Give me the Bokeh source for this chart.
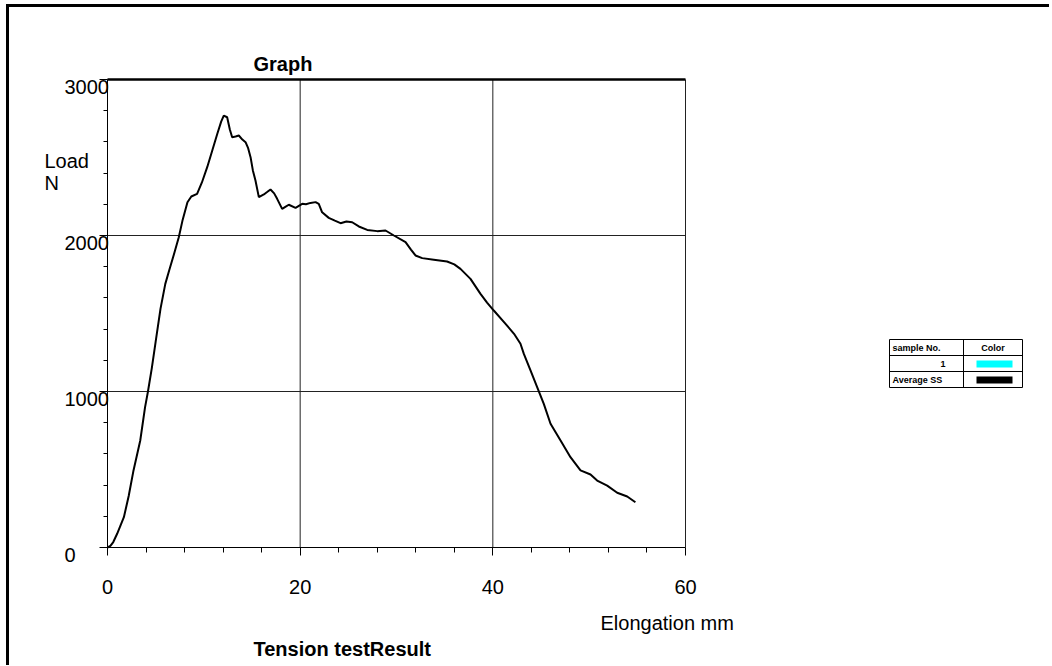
from bokeh.plotting import figure
from bokeh.models import Range1d, FixedTicker, Label, LinearAxis
from bokeh.layouts import row
from bokeh.embed import file_html
from bokeh.resources import INLINE

# ---------------- data ----------------
ELONG = [0, 0.3, 0.6, 1.0, 1.7, 2.2, 2.7, 3.4, 3.9, 4.2, 4.6, 5.0, 5.5, 6.0, 6.4, 6.9, 7.4,
         7.8, 8.3, 8.7, 9.3, 9.8, 10.35, 10.9, 11.4, 11.8, 12.07, 12.42, 12.7, 12.94, 13.3,
         13.63, 14.0, 14.33, 14.6, 14.85, 15.09, 15.36, 15.71, 16.23, 16.6, 16.92, 17.3,
         17.61, 18.13, 18.5, 18.82, 19.52, 20.21, 20.6, 21.07, 21.6, 21.93, 22.28, 22.97,
         23.6, 24.19, 24.8, 25.4, 26.09, 26.96, 28.0, 28.86, 29.73, 30.94, 31.5, 31.97,
         32.67, 33.87, 35.25, 36.0, 36.64, 37.68, 38.72, 39.4, 40.1, 41.32, 42.2, 42.87,
         43.22, 43.91, 44.6, 45.29, 45.99, 47.03, 48.06, 49.1, 50.14, 50.83, 51.87, 52.91,
         53.95, 54.8]
LOAD = [0, 10, 35, 88, 194, 330, 494, 686, 900, 1000, 1150, 1320, 1530, 1690, 1776, 1880,
        1989, 2100, 2213, 2250, 2267, 2340, 2438, 2550, 2652, 2730, 2769, 2758, 2680, 2630,
        2635, 2641, 2615, 2598, 2560, 2502, 2417, 2353, 2246, 2263, 2280, 2295, 2270, 2235,
        2171, 2185, 2197, 2177, 2203, 2200, 2209, 2214, 2203, 2149, 2113, 2095, 2079, 2090,
        2085, 2058, 2036, 2028, 2032, 2000, 1957, 1910, 1872, 1855, 1845, 1833, 1815, 1786,
        1722, 1626, 1570, 1519, 1434, 1370, 1306, 1241, 1135, 1028, 921, 793, 686, 579, 494,
        468, 429, 397, 351, 327, 290]

X_TICKS = [0, 20, 40, 60]
X_TICK_LABELS = ["0", "20", "40", "60"]
X_MINOR = [4, 8, 12, 16, 24, 28, 32, 36, 44, 48, 52, 56]
X_GRID = [20, 40, 60]
Y_TICKS = [0, 1000, 2000, 3000]
Y_TICK_LABELS = ["0", "1000", "2000", "3000"]
Y_MINOR = [200, 400, 600, 800, 1200, 1400, 1600, 1800, 2200, 2400, 2600, 2800]
Y_GRID = [1000, 2000]
X_MIN, X_MAX = 0, 60
Y_MIN, Y_MAX = 0, 3000

TITLE = "Graph"
Y_TITLE = ["Load", "N"]
X_TITLE = "Elongation mm"
FOOTER = "Tension testResult"

LEGEND_HEADERS = ["sample No.", "Color"]
LEGEND_SAMPLES = ["1", "Average SS"]
LEGEND_COLORS = ["#00FFFF", "#000000"]

FONT = "Liberation Sans"
FS = "20px"

# ---------------- geometry (page pixels) ----------------
OX, OY = 9, 7                 # top-left of the main canvas on the page
W, H = 870, 658
PL, PR, PT, PB = 107, 685, 79, 547   # plot-area box on the page
SX = (PR - PL) / (X_MAX - X_MIN)
SY = (PB - PT) / (Y_MAX - Y_MIN)


def dx(px):
    return X_MIN + (px - PL) / SX


def dy(py):
    return Y_MIN + (PB - py) / SY


x_range = Range1d(dx(OX), dx(OX + W))
y_range = Range1d(dy(OY + H), dy(OY))

# ---------------- main figure ----------------
p = figure(width=W, height=H, x_range=x_range, y_range=y_range,
           output_backend="svg", toolbar_location=None, min_border=0)
p.background_fill_color = "white"
p.border_fill_color = "white"
p.outline_line_color = None
p.grid.visible = False

# x axis at y=0
xa = p.xaxis[0]
xa.fixed_location = Y_MIN
xa.bounds = (X_MIN, X_MAX)
xa.ticker = FixedTicker(ticks=X_TICKS, minor_ticks=X_MINOR)
xa.major_label_overrides = {t: l for t, l in zip(X_TICKS, X_TICK_LABELS)}
xa.axis_line_color = "black"
xa.major_tick_line_color = "black"
xa.minor_tick_line_color = "black"
xa.major_tick_in = 0
xa.minor_tick_in = 0
xa.major_tick_out = 8
xa.minor_tick_out = 5
xa.major_label_text_font = FONT
xa.major_label_text_font_size = FS
xa.major_label_text_color = "black"
xa.major_label_standoff = 24

# y axis at x=0: minor ticks axis + major ticks axis (labels drawn separately)
ya = p.yaxis[0]
ya.fixed_location = X_MIN
ya.bounds = (Y_MIN, Y_MAX)
ya.ticker = FixedTicker(ticks=[], minor_ticks=Y_MINOR)
ya.axis_line_color = "black"
ya.minor_tick_line_color = "black"
ya.minor_tick_in = 0
ya.minor_tick_out = 4

ya2 = LinearAxis(fixed_location=X_MIN, bounds=(Y_MIN, Y_MAX),
                 ticker=FixedTicker(ticks=[], minor_ticks=Y_TICKS))
ya2.axis_line_color = "black"
ya2.minor_tick_line_color = "black"
ya2.minor_tick_in = 0
ya2.minor_tick_out = 8
p.add_layout(ya2, "left")

# grid lines and box
p.segment(x0=X_GRID, y0=[Y_MIN] * len(X_GRID), x1=X_GRID, y1=[Y_MAX] * len(X_GRID),
          line_color="#222222", line_width=1)
p.segment(x0=[X_MIN] * len(Y_GRID), y0=Y_GRID, x1=[X_MAX] * len(Y_GRID), y1=Y_GRID,
          line_color="#222222", line_width=1)
p.segment(x0=[X_MIN], y0=[Y_MAX], x1=[X_MAX], y1=[Y_MAX], line_color="black", line_width=2.5)

# data curve
p.line(ELONG, LOAD, line_color="black", line_width=2)

# y tick labels (left aligned, a little below their tick)
for t, lab in zip(Y_TICKS, Y_TICK_LABELS):
    p.add_layout(Label(x=dx(64), y=t - 7 / SY, text=lab, text_font=FONT, text_font_size=FS,
                       text_align="left", text_baseline="middle", text_color="black"))

TXT = dict(text_font=FONT, text_font_size=FS, text_align="left", text_baseline="middle",
           text_color="black")
p.add_layout(Label(x=dx(253), y=dy(63), text=TITLE, text_font_style="bold", **TXT))
p.add_layout(Label(x=dx(44), y=dy(160), text=Y_TITLE[0], **TXT))
p.add_layout(Label(x=dx(44), y=dy(182), text=Y_TITLE[1], **TXT))
p.add_layout(Label(x=dx(600), y=dy(622), text=X_TITLE, **TXT))
p.add_layout(Label(x=dx(253), y=dy(648), text=FOOTER, text_font_style="bold", **TXT))

# ---------------- legend table figure ----------------
leg = figure(width=170, height=H, x_range=Range1d(0, 170), y_range=Range1d(H, 0),
             output_backend="svg", toolbar_location=None, min_border=0)
leg.axis.visible = False
leg.grid.visible = False
leg.outline_line_color = None
leg.background_fill_color = "white"
leg.border_fill_color = "white"

leg.quad(left=[10], right=[143], top=[332], bottom=[380], fill_color=None,
         line_color="black", line_width=1)
leg.segment(x0=[10, 10, 84], y0=[348, 364, 332], x1=[143, 143, 84], y1=[348, 364, 380],
            line_color="black", line_width=1)
leg.quad(left=[97, 97], right=[133, 133], top=[353, 369], bottom=[360, 376],
         fill_color=LEGEND_COLORS, line_color=None)

SM = dict(text_font=FONT, text_font_size="9px", text_font_style="bold", text_baseline="middle",
          text_color="black")
leg.add_layout(Label(x=13, y=340, text=LEGEND_HEADERS[0], text_align="left", **SM))
leg.add_layout(Label(x=113.5, y=340, text=LEGEND_HEADERS[1], text_align="center", **SM))
leg.add_layout(Label(x=66, y=356, text=LEGEND_SAMPLES[0], text_align="right", **SM))
leg.add_layout(Label(x=13, y=372, text=LEGEND_SAMPLES[1], text_align="left", **SM))

lay = row(p, leg, styles={"border-top": "3px solid black", "border-left": "3px solid black",
                          "margin-top": "4px", "margin-left": "6px"})

open("out.html", "w").write(file_html(lay, INLINE))
